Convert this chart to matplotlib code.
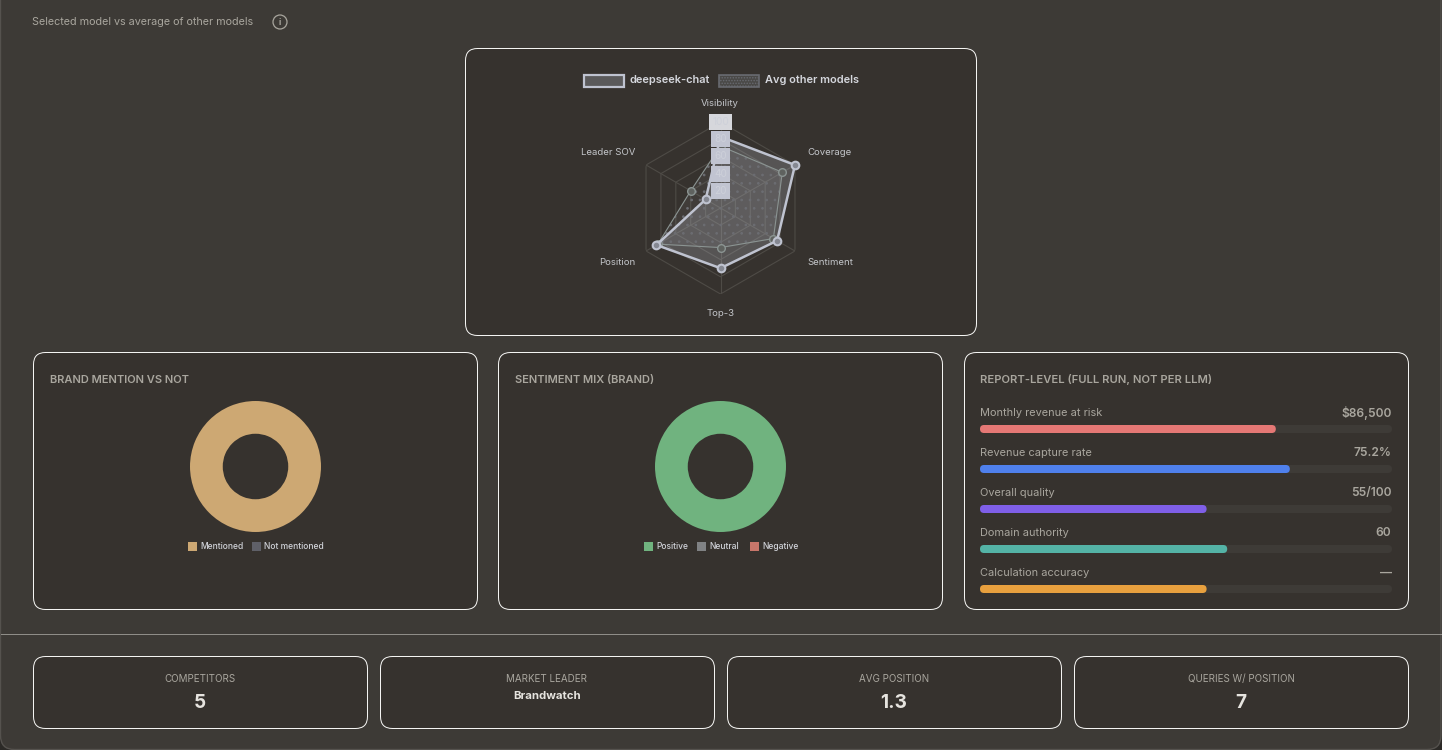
import matplotlib
matplotlib.use("Agg")
import matplotlib.pyplot as plt
import numpy as np
from matplotlib.patches import FancyBboxPatch, Rectangle, Circle

plt.rcParams['font.family'] = ['Inter', 'DejaVu Sans']
plt.rcParams['hatch.linewidth'] = 0.7

W, H = 1442, 750
PX = 0.72  # px -> pt at dpi 100

# data
radar_labels = ["Visibility", "Coverage", "Sentiment", "Top-3", "Position", "Leader SOV"]
radar_ticks = [20, 40, 60, 80, 100]
deepseek_vals = [83, 100, 76, 70, 86, 20]
avg_vals = [72, 83, 71, 46, 84, 40]

mention_labels = ["Mentioned", "Not mentioned"]
mention_vals = [100, 0]
mention_colors = ["#cda873", "#5f6068"]

sentiment_labels = ["Positive", "Neutral", "Negative"]
sentiment_vals = [100, 0, 0]
sentiment_colors = ["#70b37f", "#808284", "#c8766a"]

report_labels = ["Monthly revenue at risk", "Revenue capture rate", "Overall quality",
                 "Domain authority", "Calculation accuracy"]
report_texts = ["$86,500", "75.2%", "55/100", "60", "—"]
report_vals = [71.8, 75.2, 55, 60, 55]
report_colors = ["#e57875", "#4f80ec", "#7f5fe8", "#54b3a6", "#e8a03e"]

stat_labels = ["COMPETITORS", "MARKET LEADER", "AVG POSITION", "QUERIES W/ POSITION"]
stat_values = ["5", "Brandwatch", "1.3", "7"]

BG = "#3d3a36"
CARD = "#36322e"
MUTED = "#a9a69e"
LIGHT = "#bfc3d0"

fig = plt.figure(figsize=(W / 100, H / 100), dpi=100, facecolor="#2c2a27")
main = fig.add_axes([0, 0, 1, 1])
main.set_xlim(0, W)
main.set_ylim(H, 0)
main.axis("off")


def px_axes(x0, y0, x1, y1, **kw):
    return fig.add_axes([x0 / W, 1 - y1 / H, (x1 - x0) / W, (y1 - y0) / H], **kw)


def card(x0, y0, x1, y1):
    main.add_patch(FancyBboxPatch((x0 + 0.5, y0 + 0.5), x1 - x0, y1 - y0,
                                  boxstyle="round,pad=0,rounding_size=12",
                                  fc=CARD, ec="#f4f4f2", lw=0.72))


def txt(x, y, s, size, color=MUTED, ha="left", weight="normal"):
    main.text(x, y + 0.8, s, fontsize=size * PX, color=color, ha=ha, va="center", weight=weight)


# page background
main.add_patch(FancyBboxPatch((0.5, -30), W - 1.5, H + 29.5,
                              boxstyle="round,pad=0,rounding_size=14",
                              fc=BG, ec="#55524e", lw=1))
main.plot([1, W - 1], [634, 634], color="#8f8d88", lw=0.72)

txt(32, 21.5, "Selected model vs average of other models", 10.8)
main.add_patch(Circle((280, 22), 7, fc="none", ec=MUTED, lw=0.9))
txt(280, 21.5, "i", 8.5, ha="center", weight="bold")

# cards
card(465, 48, 976, 335)
card(33, 352, 477, 609)
card(498, 352, 942, 609)
card(964, 352, 1408, 609)
stat_boxes = [(33, 367), (380, 714), (727, 1061), (1074, 1408)]
for (x0, x1), lab, val in zip(stat_boxes, stat_labels, stat_values):
    card(x0, 656, x1, 728)
    cx = (x0 + x1) / 2
    txt(cx, 678, lab, 9.8, ha="center")
    if val == "Brandwatch":
        txt(cx, 695.5, val, 11.4, color="#e6e4df", ha="center", weight="bold")
    else:
        txt(cx, 702, val, 19, color="#e6e4df", ha="center", weight="bold")

# radar
cx, cy, R = 720.5, 208, 86
radar = px_axes(cx - R, cy - R, cx + R, cy + R, projection="polar")
radar.set_theta_zero_location("N")
radar.set_theta_direction(-1)
radar.set_ylim(0, 100)
radar.patch.set_alpha(0)
radar.grid(False)
radar.spines["polar"].set_visible(False)
radar.set_xticks([])
radar.set_yticks([])

theta = np.linspace(0, 2 * np.pi, len(radar_labels), endpoint=False)
theta_c = np.append(theta, theta[0])
for t in radar_ticks:
    radar.plot(theta_c, [t] * len(theta_c), color="#4e4b46", lw=0.8, zorder=1)
for th in theta:
    radar.plot([th, th], [0, 100], color="#4e4b46", lw=0.8, zorder=1)

ds_c = deepseek_vals + deepseek_vals[:1]
av_c = avg_vals + avg_vals[:1]
radar.fill(theta_c, av_c, fc="#8a8a8a", alpha=0.12, lw=0, zorder=2)
radar.fill(theta_c, ds_c, fc=LIGHT, alpha=0.24, lw=0, zorder=2)
radar.fill(theta_c, av_c, fc="none", ec="#6c6d72", hatch="..", lw=0, zorder=2)
radar.plot(theta_c, av_c, color="#8b9492", lw=0.8, zorder=3)
radar.plot(theta, avg_vals, ls="none", marker="o", ms=5.5, mfc="#5f625f", mec="#8b9492", mew=1, zorder=3,
           clip_on=False)
radar.plot(theta_c, ds_c, color=LIGHT, lw=1.8, zorder=4, clip_on=False)
radar.plot(theta, deepseek_vals, ls="none", marker="o", ms=5.5, mfc="#858892", mec=LIGHT, mew=1.5, zorder=4,
           clip_on=False)

for t in radar_ticks:
    fc = "#d6d7dc" if t == 100 else "#c1c4d1"
    radar.text(0, t, str(t), fontsize=10 * PX, ha="center", va="center", color="#cdd0d9", zorder=6,
               bbox=dict(boxstyle="square,pad=0.3", fc=fc, ec="none"))

label_pos = [(720, 103, "center"), (807, 152, "left"), (807, 262, "left"),
             (721, 312.5, "center"), (635, 262, "right"), (635, 152, "right")]
for (x, y, ha), lab in zip(label_pos, radar_labels):
    txt(x, y, lab, 9.6, color="#c3c5c9", ha=ha)

# radar legend
main.add_patch(Rectangle((584, 74.5), 40, 12, fc="#5b5a5b", ec=LIGHT, lw=1.6))
txt(630, 79.5, "deepseek-chat", 11, color="#d5d7dd", weight="semibold")
main.add_patch(Rectangle((718.5, 74.5), 40, 12, fc="#4a4947", ec="#686a70", lw=1.2, hatch="......"))
txt(765, 79.5, "Avg other models", 11, color="#d5d7dd", weight="semibold")


# donuts
def donut(center_x, vals, colors):
    r = 65.5
    ax = px_axes(center_x - r, 466.5 - r, center_x + r, 466.5 + r)
    ax.pie(vals, colors=colors, radius=1, startangle=90, counterclock=False,
           wedgeprops=dict(width=0.5, lw=0))
    ax.set_xlim(-1, 1)
    ax.set_ylim(-1, 1)


donut(255.5, mention_vals, mention_colors)
donut(720.5, sentiment_vals, sentiment_colors)
txt(50, 379, "BRAND MENTION VS NOT", 11.1, weight="semibold")
txt(515, 379, "SENTIMENT MIX (BRAND)", 11.1, weight="semibold")
txt(980, 379, "REPORT-LEVEL (FULL RUN, NOT PER LLM)", 11.2, weight="semibold")


def legend_row(items, colors, xs):
    for lab, col, x in zip(items, colors, xs):
        main.add_patch(Rectangle((x, 541.5), 9, 9.5, fc=col, ec="none"))
        txt(x + 12.5, 545.5, lab, 8.5, color="#d0d2d8", weight="medium")


legend_row(mention_labels, mention_colors, [187.5, 252])
legend_row(sentiment_labels, sentiment_colors, [643.5, 697, 750])

# report bars
bars = px_axes(980, 420, 1392, 600)
bars.set_xlim(0, 100)
bars.set_ylim(180, 0)
bars.axis("off")
bar_h = 8
aspect = 412 / 100
for i, (lab, s, v, col) in enumerate(zip(report_labels, report_texts, report_vals, report_colors)):
    y = 9 + 40 * i
    row_y = 412.4 + 40 * i
    txt(980, row_y, lab, 11)
    txt(1391.5, row_y, s, 12, ha="right", weight="semibold")
    for val, c in ((100, "#3e3b37"), (v, col)):
        bars.add_patch(FancyBboxPatch((0, y - bar_h / 2), val, bar_h,
                                      boxstyle=f"round,pad=0,rounding_size={4 / aspect}",
                                      mutation_aspect=aspect, fc=c, ec="none"))

fig.savefig("out.png", dpi=100, facecolor=fig.get_facecolor())
